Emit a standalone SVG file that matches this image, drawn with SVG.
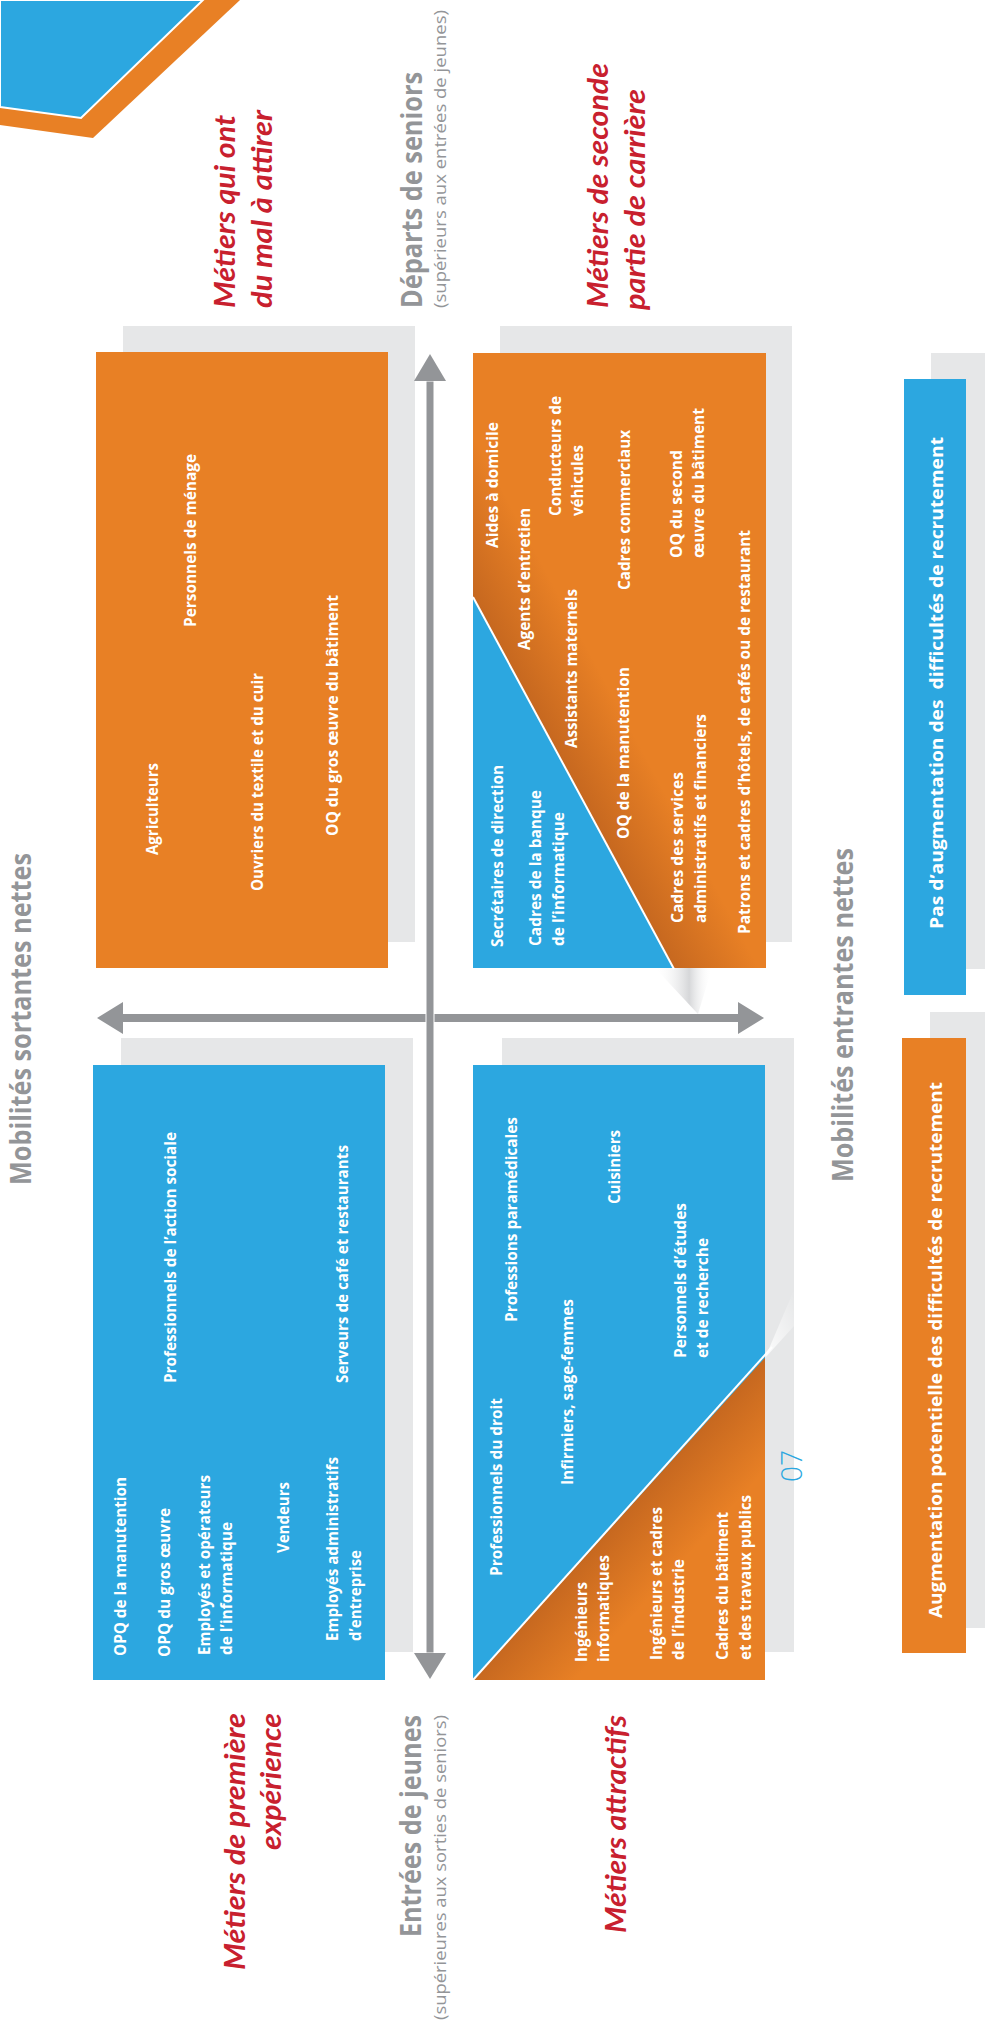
<svg xmlns="http://www.w3.org/2000/svg" width="985" height="2027" viewBox="0 0 985 2027">
<defs>
<style>
.lbl{font-family:"Open Sans","DejaVu Sans",sans-serif;font-weight:700;font-size:16px;fill:#fff}
.ttl{font-family:Lato,"Open Sans",sans-serif;font-weight:700;font-style:italic;font-size:29px;fill:#c8202e}
.ax{font-family:"Open Sans","DejaVu Sans",sans-serif;font-weight:700;font-size:28px;fill:#939598}
.sub{font-family:"Open Sans","DejaVu Sans",sans-serif;font-weight:400;font-size:16.5px;fill:#939598}
.leg{font-family:"Open Sans","DejaVu Sans",sans-serif;font-weight:700;font-size:18px;fill:#fff}
.pg{font-family:"Open Sans","DejaVu Sans",sans-serif;font-weight:300;font-size:30px;fill:#2ca7e0}
.sh{fill:#e6e7e8}
.or{fill:#e88025}
.bl{fill:#2ca7e0}
.ar{fill:#939598}
</style>
<linearGradient id="g2" gradientUnits="userSpaceOnUse" x1="573" y1="782" x2="640" y2="746">
<stop offset="0" stop-color="#a5501a" stop-opacity="0.5"/>
<stop offset="1" stop-color="#a5501a" stop-opacity="0"/>
</linearGradient>
<linearGradient id="g4" gradientUnits="userSpaceOnUse" x1="619" y1="1519" x2="675" y2="1570">
<stop offset="0" stop-color="#a5501a" stop-opacity="0.5"/>
<stop offset="1" stop-color="#a5501a" stop-opacity="0"/>
</linearGradient>
<linearGradient id="gf" x1="0" y1="0" x2="1" y2="0">
<stop offset="0" stop-color="#ffffff" stop-opacity="0"/>
<stop offset="0.6" stop-color="#d6d7d9"/>
<stop offset="1" stop-color="#ffffff" stop-opacity="0"/>
</linearGradient>
<linearGradient id="gw" x1="0" y1="1" x2="1" y2="0">
<stop offset="0" stop-color="#ffffff" stop-opacity="0.9"/>
<stop offset="1" stop-color="#ffffff" stop-opacity="0"/>
</linearGradient>
</defs>
<rect width="985" height="2027" fill="#fff"/>

<g id="corner">
<polygon class="or" points="0,0 240,0 93,138 0,125"/>
<polygon class="bl" points="0,0 203,0 81,118 0,107" stroke="#fff" stroke-width="2"/>
</g>

<g id="titles">
<text class="ttl" transform="translate(235,308) rotate(-90)" textLength="193" lengthAdjust="spacingAndGlyphs">Métiers qui ont</text>
<text class="ttl" transform="translate(272,308) rotate(-90)" textLength="198" lengthAdjust="spacingAndGlyphs">du mal à attirer</text>
<text class="ttl" transform="translate(608,308) rotate(-90)" textLength="245" lengthAdjust="spacingAndGlyphs">Métiers de seconde</text>
<text class="ttl" transform="translate(645,310) rotate(-90)" textLength="221" lengthAdjust="spacingAndGlyphs">partie de carrière</text>
<text class="ttl" transform="translate(245,1970) rotate(-90)" textLength="257" lengthAdjust="spacingAndGlyphs">Métiers de première</text>
<text class="ttl" transform="translate(281,1850) rotate(-90)" textLength="137" lengthAdjust="spacingAndGlyphs">expérience</text>
<text class="ttl" transform="translate(626,1933) rotate(-90)" textLength="218" lengthAdjust="spacingAndGlyphs">Métiers attractifs</text>
</g>

<g id="axis-labels">
<text class="ax" transform="translate(422,308) rotate(-90)" textLength="236" lengthAdjust="spacingAndGlyphs">Départs de seniors</text>
<text class="sub" transform="translate(446,308) rotate(-90)" textLength="298" lengthAdjust="spacingAndGlyphs">(supérieurs aux entrées de jeunes)</text>
<text class="ax" transform="translate(421,1937) rotate(-90)" textLength="222" lengthAdjust="spacingAndGlyphs">Entrées de jeunes</text>
<text class="sub" transform="translate(446,2020) rotate(-90)" textLength="305" lengthAdjust="spacingAndGlyphs">(supérieures aux sorties de seniors)</text>
<text class="ax" transform="translate(31,1185) rotate(-90)" textLength="332" lengthAdjust="spacingAndGlyphs">Mobilités sortantes nettes</text>
<text class="ax" transform="translate(853,1182) rotate(-90)" textLength="334" lengthAdjust="spacingAndGlyphs">Mobilités entrantes nettes</text>
</g>

<g id="q1">
<rect class="sh" x="123" y="326" width="292" height="616"/>
<rect class="or" x="96" y="352" width="292" height="616"/>
<text class="lbl" transform="translate(158,855) rotate(-90)" textLength="92" lengthAdjust="spacingAndGlyphs">Agriculteurs</text>
<text class="lbl" transform="translate(196,627) rotate(-90)" textLength="173" lengthAdjust="spacingAndGlyphs">Personnels de ménage</text>
<text class="lbl" transform="translate(263,891) rotate(-90)" textLength="218" lengthAdjust="spacingAndGlyphs">Ouvriers du textile et du cuir</text>
<text class="lbl" transform="translate(338,836) rotate(-90)" textLength="241" lengthAdjust="spacingAndGlyphs">OQ du gros œuvre du bâtiment</text>
</g>

<g id="q2">
<rect class="sh" x="500" y="326" width="292" height="616"/>
<polygon fill="url(#gf)" points="655,968 712,968 698,1014"/>
<rect class="or" x="473" y="353" width="293" height="615"/>
<polygon fill="url(#g2)" points="473,353 766,353 766,968 673,968 473,597"/>
<polygon class="bl" points="473,597 473,968 673,968"/>
<line x1="473" y1="597" x2="674" y2="969" stroke="#fff" stroke-width="2"/>
<text class="lbl" transform="translate(498,548) rotate(-90)" textLength="126" lengthAdjust="spacingAndGlyphs">Aides à domicile</text>
<text class="lbl" transform="translate(530,650) rotate(-90)" textLength="142" lengthAdjust="spacingAndGlyphs">Agents d’entretien</text>
<text class="lbl" transform="translate(561,516) rotate(-90)" textLength="120" lengthAdjust="spacingAndGlyphs">Conducteurs de</text>
<text class="lbl" transform="translate(583,516) rotate(-90)" textLength="71" lengthAdjust="spacingAndGlyphs">véhicules</text>
<text class="lbl" transform="translate(577,748) rotate(-90)" textLength="159" lengthAdjust="spacingAndGlyphs">Assistants maternels</text>
<text class="lbl" transform="translate(630,590) rotate(-90)" textLength="160" lengthAdjust="spacingAndGlyphs">Cadres commerciaux</text>
<text class="lbl" transform="translate(682,558) rotate(-90)" textLength="108" lengthAdjust="spacingAndGlyphs">OQ du second</text>
<text class="lbl" transform="translate(704,558) rotate(-90)" textLength="150" lengthAdjust="spacingAndGlyphs">œuvre du bâtiment</text>
<text class="lbl" transform="translate(750,934) rotate(-90)" textLength="404" lengthAdjust="spacingAndGlyphs">Patrons et cadres d’hôtels, de cafés ou de restaurant</text>
<text class="lbl" transform="translate(629,839) rotate(-90)" textLength="172" lengthAdjust="spacingAndGlyphs">OQ de la manutention</text>
<text class="lbl" transform="translate(683,923) rotate(-90)" textLength="151" lengthAdjust="spacingAndGlyphs">Cadres des services</text>
<text class="lbl" transform="translate(706,923) rotate(-90)" textLength="209" lengthAdjust="spacingAndGlyphs">administratifs et financiers</text>
<text class="lbl" transform="translate(503,947) rotate(-90)" textLength="182" lengthAdjust="spacingAndGlyphs">Secrétaires de direction</text>
<text class="lbl" transform="translate(541,946) rotate(-90)" textLength="156" lengthAdjust="spacingAndGlyphs">Cadres de la banque</text>
<text class="lbl" transform="translate(564,946) rotate(-90)" textLength="134" lengthAdjust="spacingAndGlyphs">de l’informatique</text>
</g>

<g id="q3">
<rect class="sh" x="121" y="1038" width="292" height="614"/>
<rect class="bl" x="93" y="1065" width="292" height="615"/>
<text class="lbl" transform="translate(126,1656) rotate(-90)" textLength="179" lengthAdjust="spacingAndGlyphs">OPQ de la manutention</text>
<text class="lbl" transform="translate(170,1657) rotate(-90)" textLength="149" lengthAdjust="spacingAndGlyphs">OPQ du gros œuvre</text>
<text class="lbl" transform="translate(210,1655) rotate(-90)" textLength="180" lengthAdjust="spacingAndGlyphs">Employés et opérateurs</text>
<text class="lbl" transform="translate(232,1655) rotate(-90)" textLength="133" lengthAdjust="spacingAndGlyphs">de l’informatique</text>
<text class="lbl" transform="translate(289,1553) rotate(-90)" textLength="71" lengthAdjust="spacingAndGlyphs">Vendeurs</text>
<text class="lbl" transform="translate(338,1641) rotate(-90)" textLength="184" lengthAdjust="spacingAndGlyphs">Employés administratifs</text>
<text class="lbl" transform="translate(361,1641) rotate(-90)" textLength="91" lengthAdjust="spacingAndGlyphs">d’entreprise</text>
<text class="lbl" transform="translate(176,1383) rotate(-90)" textLength="251" lengthAdjust="spacingAndGlyphs">Professionnels de l’action sociale</text>
<text class="lbl" transform="translate(348,1383) rotate(-90)" textLength="238" lengthAdjust="spacingAndGlyphs">Serveurs de café et restaurants</text>
</g>

<g id="q4">
<rect class="sh" x="502" y="1038" width="292" height="614"/>
<polygon fill="url(#gw)" points="765,1358 794,1326 794,1290"/>
<rect class="bl" x="473" y="1065" width="292" height="615"/>
<polygon class="or" points="473,1680 765,1680 765,1358"/>
<polygon fill="url(#g4)" points="473,1680 765,1680 765,1358"/>
<line x1="473" y1="1680" x2="772" y2="1347" stroke="#fff" stroke-width="2"/>
<text class="lbl" transform="translate(502,1576) rotate(-90)" textLength="178" lengthAdjust="spacingAndGlyphs">Professionnels du droit</text>
<text class="lbl" transform="translate(517,1322) rotate(-90)" textLength="205" lengthAdjust="spacingAndGlyphs">Professions paramédicales</text>
<text class="lbl" transform="translate(573,1485) rotate(-90)" textLength="186" lengthAdjust="spacingAndGlyphs">Infirmiers, sage-femmes</text>
<text class="lbl" transform="translate(620,1204) rotate(-90)" textLength="74" lengthAdjust="spacingAndGlyphs">Cuisiniers</text>
<text class="lbl" transform="translate(686,1358) rotate(-90)" textLength="155" lengthAdjust="spacingAndGlyphs">Personnels d’études</text>
<text class="lbl" transform="translate(708,1358) rotate(-90)" textLength="120" lengthAdjust="spacingAndGlyphs">et de recherche</text>
<text class="lbl" transform="translate(587,1662) rotate(-90)" textLength="80" lengthAdjust="spacingAndGlyphs">Ingénieurs</text>
<text class="lbl" transform="translate(609,1662) rotate(-90)" textLength="107" lengthAdjust="spacingAndGlyphs">informatiques</text>
<text class="lbl" transform="translate(662,1660) rotate(-90)" textLength="153" lengthAdjust="spacingAndGlyphs">Ingénieurs et cadres</text>
<text class="lbl" transform="translate(684,1660) rotate(-90)" textLength="101" lengthAdjust="spacingAndGlyphs">de l’industrie</text>
<text class="lbl" transform="translate(728,1660) rotate(-90)" textLength="148" lengthAdjust="spacingAndGlyphs">Cadres du bâtiment</text>
<text class="lbl" transform="translate(751,1660) rotate(-90)" textLength="165" lengthAdjust="spacingAndGlyphs">et des travaux publics</text>
</g>

<g id="axes">
<rect class="ar" x="123" y="1014" width="615" height="8"/>
<polygon class="ar" points="97,1018 123,1002 123,1034"/>
<polygon class="ar" points="764,1018 738,1002 738,1034"/>
<rect class="ar" x="426" y="381" width="8" height="1272" stroke="#fff" stroke-width="1"/>
<polygon class="ar" points="430,354 446,381 414,381"/>
<polygon class="ar" points="430,1679 446,1653 414,1653"/>
</g>

<g id="legend-blue">
<rect class="sh" x="931" y="353" width="54" height="616"/>
<rect class="bl" x="904" y="379" width="62" height="616"/>
<text class="leg" xml:space="preserve" transform="translate(943,929) rotate(-90)" textLength="492" lengthAdjust="spacingAndGlyphs">Pas d’augmentation des  difficultés de recrutement</text>
</g>

<g id="legend-orange">
<rect class="sh" x="930" y="1012" width="55" height="616"/>
<rect class="or" x="902" y="1038" width="64" height="615"/>
<text class="leg" transform="translate(942,1618) rotate(-90)" textLength="536" lengthAdjust="spacingAndGlyphs">Augmentation potentielle des difficultés de recrutement</text>
</g>

<g id="page-number">
<text class="pg" transform="translate(802,1482) rotate(-90)" textLength="32" lengthAdjust="spacingAndGlyphs">07</text>
</g>
</svg>
